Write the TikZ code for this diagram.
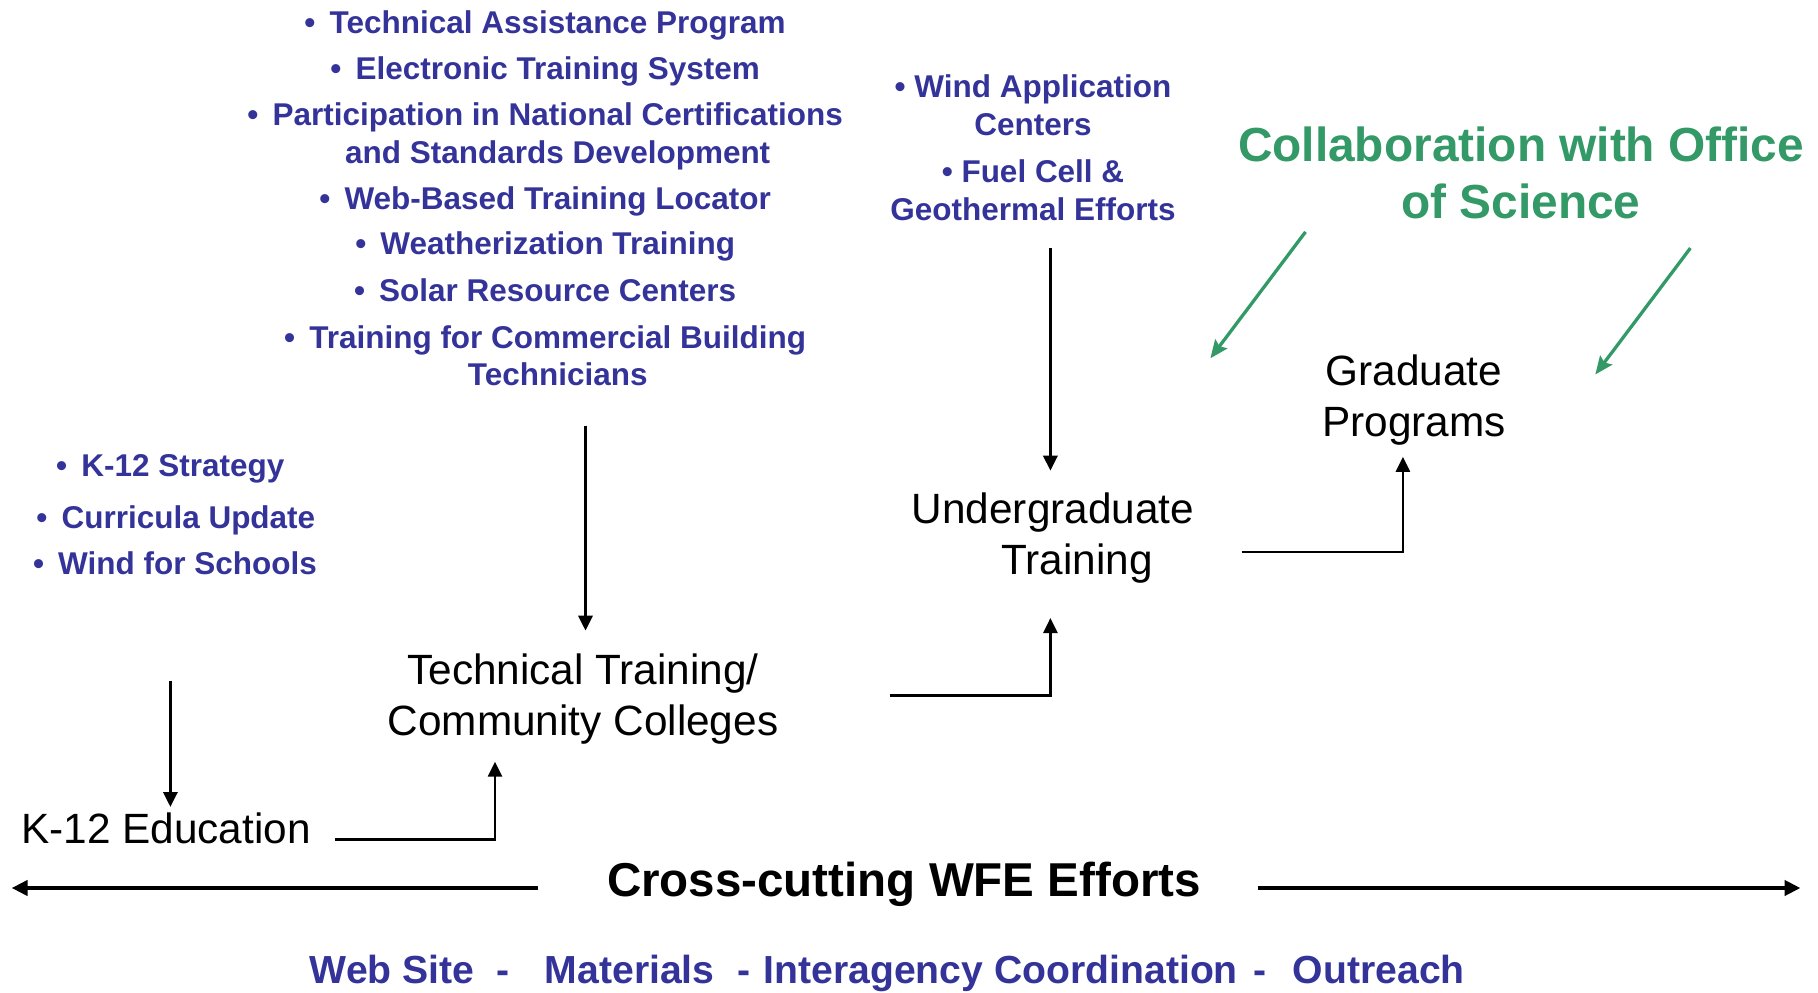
\documentclass[tikz,border=0pt]{standalone}
\usepackage{fontspec}
\setmainfont{Liberation Sans}
\usetikzlibrary{arrows.meta}
\definecolor{navy}{RGB}{51,51,153}
\definecolor{sgreen}{RGB}{51,153,102}
\newcommand{\bul}{\llap{•\hspace{0.45em}}}
\begin{document}
\begin{tikzpicture}[x=1bp,y=-1bp,
  blist/.style={text=navy, font=\fontsize{31.6}{38}\selectfont\bfseries, inner sep=0pt, align=center, anchor=base},
  llist/.style={text=navy, font=\fontsize{31.6}{38}\selectfont\bfseries, inner sep=0pt, anchor=base west},
  stage/.style={text=black, font=\fontsize{42.5}{51}\selectfont, inner sep=0pt, align=center, anchor=base},
  collab/.style={text=sgreen, font=\fontsize{48}{58}\selectfont\bfseries, inner sep=0pt, align=center, anchor=base},
  arr/.style={draw=black, line width=3.2bp, -{Triangle[length=15bp,width=14bp]}},
  elb/.style={draw=black, line width=2.5bp, -{Triangle[length=15bp,width=14bp]}},
  wide/.style={draw=black, line width=4.3bp, -{Triangle[length=16bp,width=15bp]}},
  garr/.style={draw=sgreen, line width=3.3bp, -{Stealth[length=18bp,width=15bp,inset=3bp]}}
]
\useasboundingbox (0,0) rectangle (1818,992);
% top list
\node[blist] (t1) at (557.7,33.4) {\bul Technical Assistance Program};
\node[blist] (t2) at (557.7,79.8) {\bul Electronic Training System};
\node[blist] (t3) at (557.7,163.3) {\bul Participation in National Certifications\\and Standards Development};
\node[blist] (t4) at (557.7,209.7) {\bul Web-Based Training Locator};
\node[blist] (t5) at (557.7,254.9) {\bul Weatherization Training};
\node[blist] (t6) at (557.7,301.3) {\bul Solar Resource Centers};
\node[blist] (t7) at (557.7,385.9) {\bul Training for Commercial Building\\Technicians};
% wind list
\node[blist] (w1) at (1033,135.4) {• Wind Application\\Centers};
\node[blist] (w2) at (1033,220.1) {• Fuel Cell \&\\Geothermal Efforts};
% collaboration
\node[collab] (col) at (1521,218.9) {Collaboration with Office\\of Science};
% left list
\node[llist] (k1) at (81.2,476.3) {\bul K-12 Strategy};
\node[llist] (k2) at (61.4,528.5) {\bul Curricula Update};
\node[llist] (k3) at (58,574.9) {\bul Wind for Schools};
% stages
\node[stage] (tech) at (583,735.2) {Technical Training/\\Community Colleges};
\node[stage, anchor=base west] (k12) at (21,843.2) {K-12 Education};
\node[stage] (ug) at (1053,574.2) {Undergraduate\\\hspace*{48bp}Training};
\node[stage] (grad) at (1414,436.2) {Graduate\\Programs};
\node[text=black, font=\fontsize{47.7}{57}\selectfont\bfseries, inner sep=0pt, anchor=base] (cross) at (904,896) {Cross-cutting WFE Efforts};
\node[text=navy, font=\fontsize{39.3}{47}\selectfont\bfseries, inner sep=0pt, anchor=base west] (bottom) at (309.6,983)
  {Web Site\hspace{22.4bp}-\hspace{35bp}Materials\hspace{23bp}-\hspace{13bp}Interagency Coordination\hspace{16bp}-\hspace{26bp}Outreach};
% connector coordinates
\coordinate (tlOut) at (585.5,425.5);
\coordinate (techIn) at (585.5,630.7);
\coordinate (klOut) at (170.4,680.6);
\coordinate (k12In) at (170.4,807);
\coordinate (k12Out) at (335,839.4);
\coordinate (techUp) at (495,761.7);
\coordinate (techOut) at (890.4,695.6);
\coordinate (ugUp) at (1050.4,618);
\coordinate (wOut) at (1050.4,248);
\coordinate (ugIn) at (1050.4,470.7);
\coordinate (ugOut) at (1241.7,551.9);
\coordinate (gradUp) at (1402.9,456.8);
\coordinate (crossL) at (538,888);
\coordinate (endL) at (11.6,888);
\coordinate (crossR) at (1258,888);
\coordinate (endR) at (1800.5,888);
\coordinate (g1s) at (1305.5,231.9);
\coordinate (g1e) at (1210.4,358.3);
\coordinate (g2s) at (1690.4,248.1);
\coordinate (g2e) at (1595.3,374.5);
% connectors
\draw[arr] (tlOut) -- (techIn);
\draw[arr] (klOut) -- (k12In);
\draw[elb] (k12Out) -| (techUp);
\draw[elb] (techOut) -| (ugUp);
\draw[arr] (wOut) -- (ugIn);
\draw[elb] (ugOut) -| (gradUp);
\draw[wide] (crossL) -- (endL);
\draw[wide] (crossR) -- (endR);
\draw[garr] (g1s) -- (g1e);
\draw[garr] (g2s) -- (g2e);
\end{tikzpicture}
\end{document}
